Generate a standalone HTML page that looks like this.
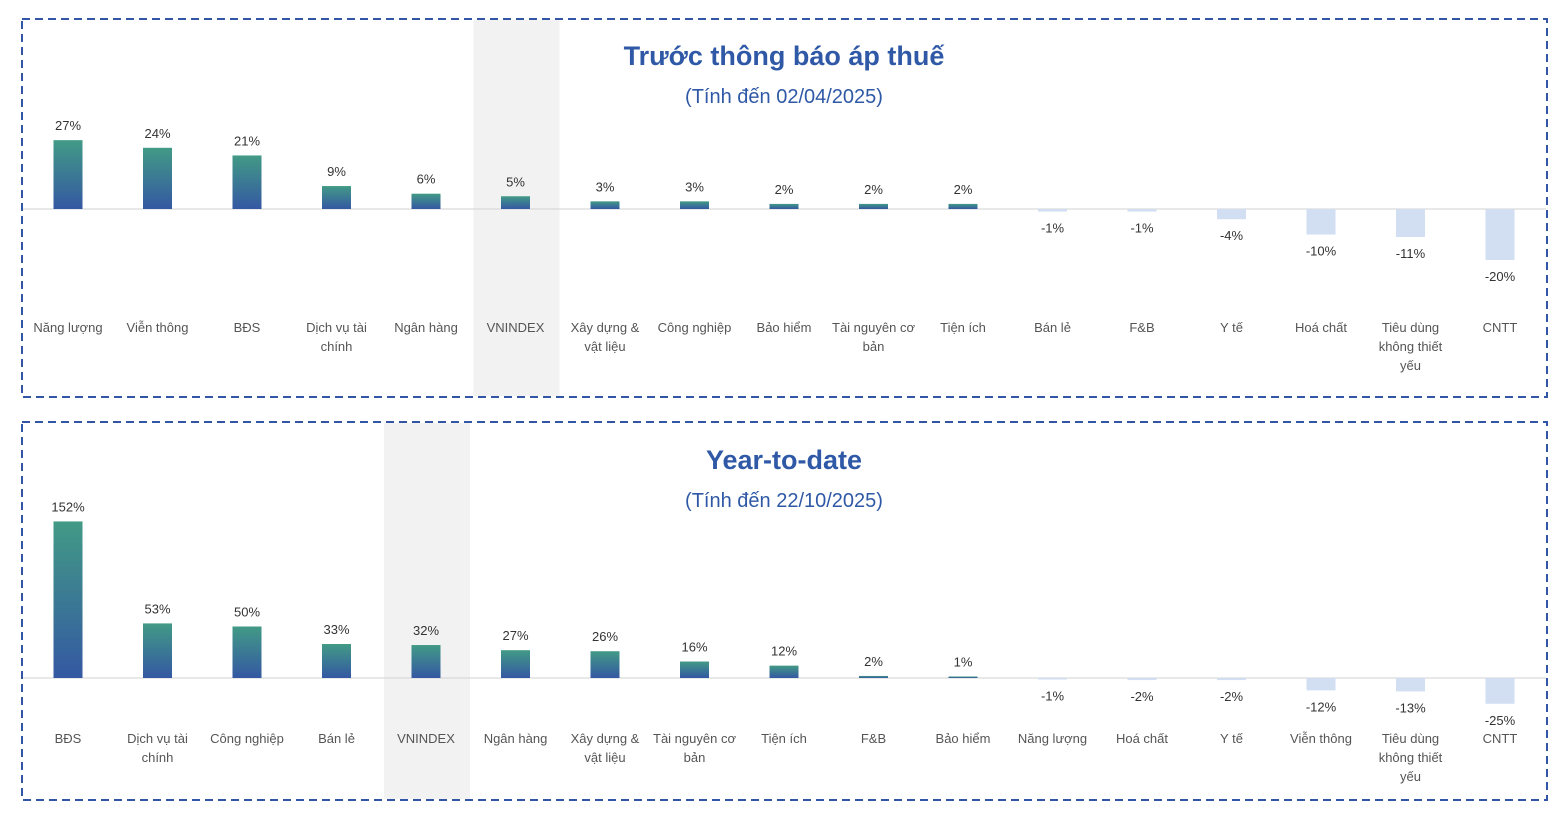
<!DOCTYPE html>
<html><head><meta charset="utf-8"><style>
body{margin:0;background:#fff;width:1564px;height:814px;overflow:hidden;font-family:"Liberation Sans",sans-serif;}
svg{display:block}
</style></head><body>
<svg id="chart" width="1564" height="814">
<defs><linearGradient id="g" x1="0" y1="0" x2="0" y2="1"><stop offset="0" stop-color="#429a86"/><stop offset="1" stop-color="#3458a2"/></linearGradient></defs>
</svg>
<script>
const topCats=["Năng lượng","Viễn thông","BĐS","Dịch vụ tài|chính","Ngân hàng","VNINDEX","Xây dựng &|vật liệu","Công nghiệp","Bảo hiểm","Tài nguyên cơ|bản","Tiện ích","Bán lẻ","F&B","Y tế","Hoá chất","Tiêu dùng|không thiết|yếu","CNTT"];
const topVals=[27,24,21,9,6,5,3,3,2,2,2,-1,-1,-4,-10,-11,-20];
const botCats=["BĐS","Dịch vụ tài|chính","Công nghiệp","Bán lẻ","VNINDEX","Ngân hàng","Xây dựng &|vật liệu","Tài nguyên cơ|bản","Tiện ích","F&B","Bảo hiểm","Năng lượng","Hoá chất","Y tế","Viễn thông","Tiêu dùng|không thiết|yếu","CNTT"];
const botVals=[152,53,50,33,32,27,26,16,12,2,1,-1,-2,-2,-12,-13,-25];
const svg=document.getElementById('chart');
const NS='http://www.w3.org/2000/svg';
function mk(t,a,txt){const e=document.createElementNS(NS,t);for(const k in a)e.setAttribute(k,a[k]);if(txt!==undefined)e.textContent=txt;svg.appendChild(e);return e;}
function panel(y0,y1,zero,scale,cats,vals,title,sub,ty,prefix){
  const b=mk('rect',{x:22,y:y0,width:1525,height:y1-y0,fill:'none',stroke:'#3355a6','stroke-width':2,'stroke-dasharray':'8,5'});
  
  
  const xs=i=>68+i*89.5;
  const vi=cats.indexOf('VNINDEX');
  const sh=mk('rect',{x:xs(vi)-42,y:y0+1,width:86,height:y1-y0-2,fill:'#f2f2f2'});
  
  
  const t=mk('text',{x:784,y:ty,'text-anchor':'middle','font-size':27,'font-weight':'bold',fill:'#2f59a6'},title);
  
  
  const s=mk('text',{x:784,y:ty+38,'text-anchor':'middle','font-size':20,fill:'#2f59a6'},sub);
  
  
  const ax=mk('line',{x1:23,x2:1546,y1:zero,y2:zero,stroke:'#d9d9d9','stroke-width':1.2});
  
  
  cats.forEach((c,i)=>{
    const v=vals[i],cx=xs(i),h=Math.max(Math.abs(v)*scale,1.5);
    const r=mk('rect',{x:cx-14.5,y:v>=0?zero-h:zero,width:29,height:h,fill:v>=0?'url(#g)':'#d2def1'});
    
    
    const ly=v>=0?zero-h-10:zero+h+21;
    const l=mk('text',{x:cx,y:ly,'text-anchor':'middle','font-size':13,fill:'#333'},v+'%');
    
    
    c.split('|').forEach((line,j)=>{
      const cl=mk('text',{x:cx,y:(prefix==='top'?332:743)+j*19,'text-anchor':'middle','font-size':13,fill:'#555'},line);
      
      
    });
  });
}
panel(19,397,209,2.55,topCats,topVals,'Trước thông báo áp thuế','(Tính đến 02/04/2025)',65,'top');
panel(422,800,678,1.03,botCats,botVals,'Year-to-date','(Tính đến 22/10/2025)',469,'bottom');
</script>
</body></html>
